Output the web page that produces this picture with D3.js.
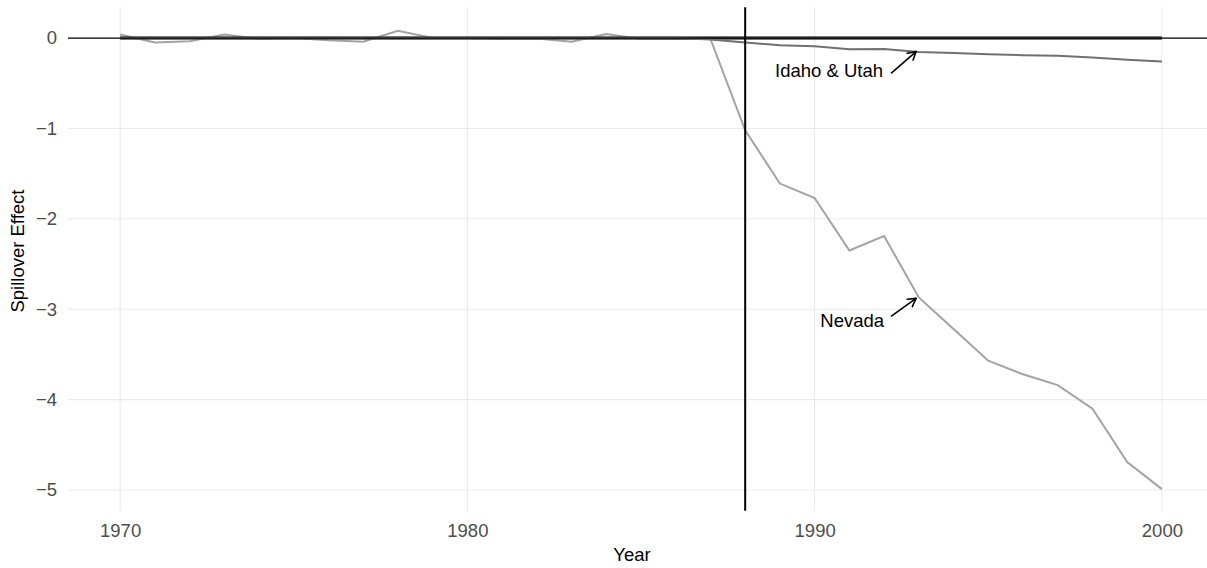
<!DOCTYPE html>
<html>
<head>
<meta charset="utf-8">
<script src="https://cdn.jsdelivr.net/npm/d3@7"></script>
<style>
  body { margin: 0; background: #fff; }
  text { font-family: "Liberation Sans", Arial, sans-serif; }
</style>
</head>
<body>
<svg id="chart" width="1207" height="568"></svg>
<script>
const years = d3.range(1970, 2001);
const nevada = [0.04, -0.05, -0.035, 0.04, -0.01, 0.0, -0.025, -0.04, 0.08, 0.0,
  0.0, -0.01, -0.005, -0.04, 0.045, -0.01, -0.01, -0.01,
  -1.02, -1.61, -1.77, -2.35, -2.19, -2.87, -3.22, -3.57, -3.72, -3.84, -4.10, -4.69, -4.99];
const idahoUtah = [0, 0, 0, 0, 0, 0, 0, 0, 0, 0,
  0, 0, 0, 0, 0, 0, 0, -0.015,
  -0.05, -0.08, -0.09, -0.125, -0.12, -0.155, -0.165, -0.18, -0.19, -0.195, -0.215, -0.24, -0.26];
const otherStates = years.map(() => 0);
const xTicks = [1970, 1980, 1990, 2000];
const yTicks = [0, -1, -2, -3, -4, -5];
const treatmentYear = 1988;
const labels = [
  {text: "Idaho & Utah", tx: 1991.97, ty: -0.357, x: 1992.2, y: -0.39, hx: 1992.92, hy: -0.15},
  {text: "Nevada", tx: 1992.0, ty: -3.12, x: 1992.2, y: -3.08, hx: 1992.92, hy: -2.88}
];

const svg = d3.select("#chart");
const W = 1207, H = 568;
const FS = 18.5;
const panel = {left: 68, right: 1214, top: 7.3, bottom: 510.8};
const x = d3.scaleLinear().domain([1968.5, 2001.5]).range([panel.left, panel.right]);
const y = d3.scaleLinear().domain([-5.23, 0.34]).range([panel.bottom, panel.top]);

// grid
const g = svg.append("g");
g.selectAll(".vg").data(xTicks).join("line")
  .attr("x1", d => x(d)).attr("x2", d => x(d))
  .attr("y1", panel.top).attr("y2", panel.bottom)
  .attr("stroke", "#ebebeb").attr("stroke-width", 1.1);
g.selectAll(".hg").data(yTicks).join("line")
  .attr("x1", panel.left).attr("x2", panel.right)
  .attr("y1", d => y(d)).attr("y2", d => y(d))
  .attr("stroke", "#ebebeb").attr("stroke-width", 1.1);

// axes labels (ticks)
const xAxis = d3.axisBottom(x).tickValues(xTicks).tickFormat(d3.format("d")).tickSize(0).tickPadding(0);
const xa = svg.append("g").attr("transform", `translate(0,537)`).call(xAxis);
xa.select(".domain").remove();
xa.selectAll("text").attr("fill", "#4d4d4d").attr("font-size", FS).attr("dy", "0").attr("y", 0);

const yAxis = d3.axisLeft(y).tickValues(yTicks).tickFormat(d => d < 0 ? "\u2212" + Math.abs(d) : d).tickSize(0).tickPadding(0);
const ya = svg.append("g").attr("transform", `translate(57,0)`).call(yAxis);
ya.select(".domain").remove();
ya.selectAll("text").attr("fill", "#4d4d4d").attr("font-size", FS).attr("dy", "0.32em");

svg.append("text").attr("x", 632).attr("y", 561)
  .attr("text-anchor", "middle").attr("font-size", FS).attr("fill", "#000").text("Year");
svg.append("text").attr("transform", `translate(24,${(panel.top + panel.bottom) / 2 - 8}) rotate(-90)`)
  .attr("text-anchor", "middle").attr("font-size", FS).attr("fill", "#000").text("Spillover Effect");

// lines
const line = d3.line().x((d, i) => x(years[i])).y(d => y(d));
svg.append("path").datum(nevada).attr("d", line)
  .attr("fill", "none").attr("stroke", "#a3a3a3").attr("stroke-width", 2);
svg.append("path").datum(otherStates).attr("d", line)
  .attr("fill", "none").attr("stroke", "#4a4a4a").attr("stroke-width", 3.4);
svg.append("path").datum(idahoUtah).attr("d", line)
  .attr("fill", "none").attr("stroke", "#707070").attr("stroke-width", 2);

// reference lines
svg.append("line").attr("x1", panel.left).attr("x2", W).attr("y1", y(0)).attr("y2", y(0))
  .attr("stroke", "#000").attr("stroke-width", 1.2);
svg.append("line").attr("x1", x(treatmentYear)).attr("x2", x(treatmentYear))
  .attr("y1", panel.top).attr("y2", panel.bottom)
  .attr("stroke", "#000").attr("stroke-width", 2);

// annotations
labels.forEach(l => {
  const x0 = x(l.x), y0 = y(l.y), x1 = x(l.hx), y1 = y(l.hy);
  svg.append("line").attr("x1", x0).attr("y1", y0).attr("x2", x1).attr("y2", y1)
    .attr("stroke", "#000").attr("stroke-width", 1.6);
  const ang = Math.atan2(y1 - y0, x1 - x0);
  const len = 9, spread = Math.PI / 6;
  [ang + Math.PI - spread, ang + Math.PI + spread].forEach(a => {
    svg.append("line").attr("x1", x1).attr("y1", y1)
      .attr("x2", x1 + len * Math.cos(a)).attr("y2", y1 + len * Math.sin(a))
      .attr("stroke", "#000").attr("stroke-width", 1.6).attr("stroke-linecap", "round");
  });
  svg.append("text").attr("x", x(l.tx)).attr("y", y(l.ty) + 0.36 * FS)
    .attr("text-anchor", "end").attr("font-size", FS).attr("fill", "#000").text(l.text);
});
</script>
</body>
</html>
